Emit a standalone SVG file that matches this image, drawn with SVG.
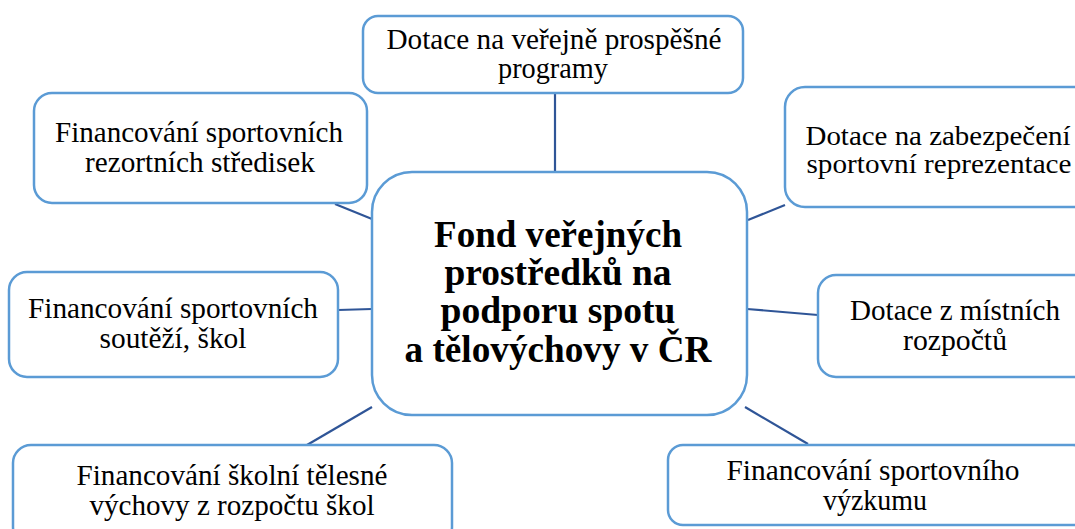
<svg xmlns="http://www.w3.org/2000/svg" width="1075" height="529" viewBox="0 0 1075 529">
<style>
.box{fill:#fff;stroke:#5b9bd5;stroke-width:2.5}
.t{font-family:"Liberation Serif","Times New Roman",serif;font-size:29px;fill:#000;text-anchor:middle}
.s{font-size:27px}
.c{font-family:"Liberation Serif","Times New Roman",serif;font-size:37px;font-weight:bold;fill:#000;text-anchor:middle}
.ln{stroke:#2f5597;stroke-width:2.2;fill:none}
</style>
<rect width="1075" height="529" fill="#fff"/>
<g id="connectors">
<line class="ln" x1="555" y1="93" x2="555" y2="172"/>
<line class="ln" x1="335" y1="204" x2="372" y2="219"/>
<line class="ln" x1="748" y1="220" x2="785" y2="205"/>
<line class="ln" x1="338" y1="310" x2="372" y2="309"/>
<line class="ln" x1="747" y1="309" x2="818" y2="315"/>
<line class="ln" x1="372" y1="407" x2="307" y2="445"/>
<line class="ln" x1="745" y1="407" x2="808" y2="444"/>
</g>
<g id="center">
<rect class="box" x="372" y="172" width="375" height="243" rx="40"/>
<text class="c" x="558" y="247" textLength="248" lengthAdjust="spacingAndGlyphs">Fond veřejných</text>
<text class="c" x="558" y="285" textLength="227" lengthAdjust="spacingAndGlyphs">prostředků na</text>
<text class="c" x="558" y="323" textLength="235" lengthAdjust="spacingAndGlyphs">podporu spotu</text>
<text class="c" x="558" y="362" textLength="307" lengthAdjust="spacingAndGlyphs">a tělovýchovy v ČR</text>
</g>
<g id="n-top">
<rect class="box" x="363" y="16" width="380" height="77" rx="15"/>
<text class="t" x="554" y="49" textLength="335" lengthAdjust="spacingAndGlyphs">Dotace na veřejně prospěšné</text>
<text class="t" x="553" y="78" textLength="110" lengthAdjust="spacingAndGlyphs">programy</text>
</g>
<g id="n-topleft">
<rect class="box" x="34" y="93" width="333" height="110" rx="18"/>
<text class="t" x="199" y="142" textLength="288" lengthAdjust="spacingAndGlyphs">Financování sportovních</text>
<text class="t" x="200" y="172" textLength="230" lengthAdjust="spacingAndGlyphs">rezortních středisek</text>
</g>
<g id="n-topright">
<rect class="box" x="785" y="87" width="310" height="120" rx="20"/>
<text class="t s" x="938" y="145" textLength="265" lengthAdjust="spacingAndGlyphs">Dotace na zabezpečení</text>
<text class="t s" x="939" y="173" textLength="265" lengthAdjust="spacingAndGlyphs">sportovní reprezentace</text>
</g>
<g id="n-left">
<rect class="box" x="9" y="272" width="329" height="105" rx="18"/>
<text class="t" x="173" y="318" textLength="290" lengthAdjust="spacingAndGlyphs">Financování sportovních</text>
<text class="t" x="173" y="348" textLength="147" lengthAdjust="spacingAndGlyphs">soutěží, škol</text>
</g>
<g id="n-right">
<rect class="box" x="818" y="275" width="280" height="102" rx="18"/>
<text class="t" x="955" y="320" textLength="210" lengthAdjust="spacingAndGlyphs">Dotace z místních</text>
<text class="t" x="955" y="350" textLength="104" lengthAdjust="spacingAndGlyphs">rozpočtů</text>
</g>
<g id="n-bottomleft">
<rect class="box" x="13" y="445" width="439" height="100" rx="18"/>
<text class="t" x="232" y="485" textLength="311" lengthAdjust="spacingAndGlyphs">Financování školní tělesné</text>
<text class="t" x="232" y="515" textLength="285" lengthAdjust="spacingAndGlyphs">výchovy z rozpočtu škol</text>
</g>
<g id="n-bottomright">
<rect class="box" x="668" y="445" width="420" height="80" rx="15"/>
<text class="t" x="873" y="480" textLength="293" lengthAdjust="spacingAndGlyphs">Financování sportovního</text>
<text class="t" x="875" y="510" textLength="104" lengthAdjust="spacingAndGlyphs">výzkumu</text>
</g>
</svg>
